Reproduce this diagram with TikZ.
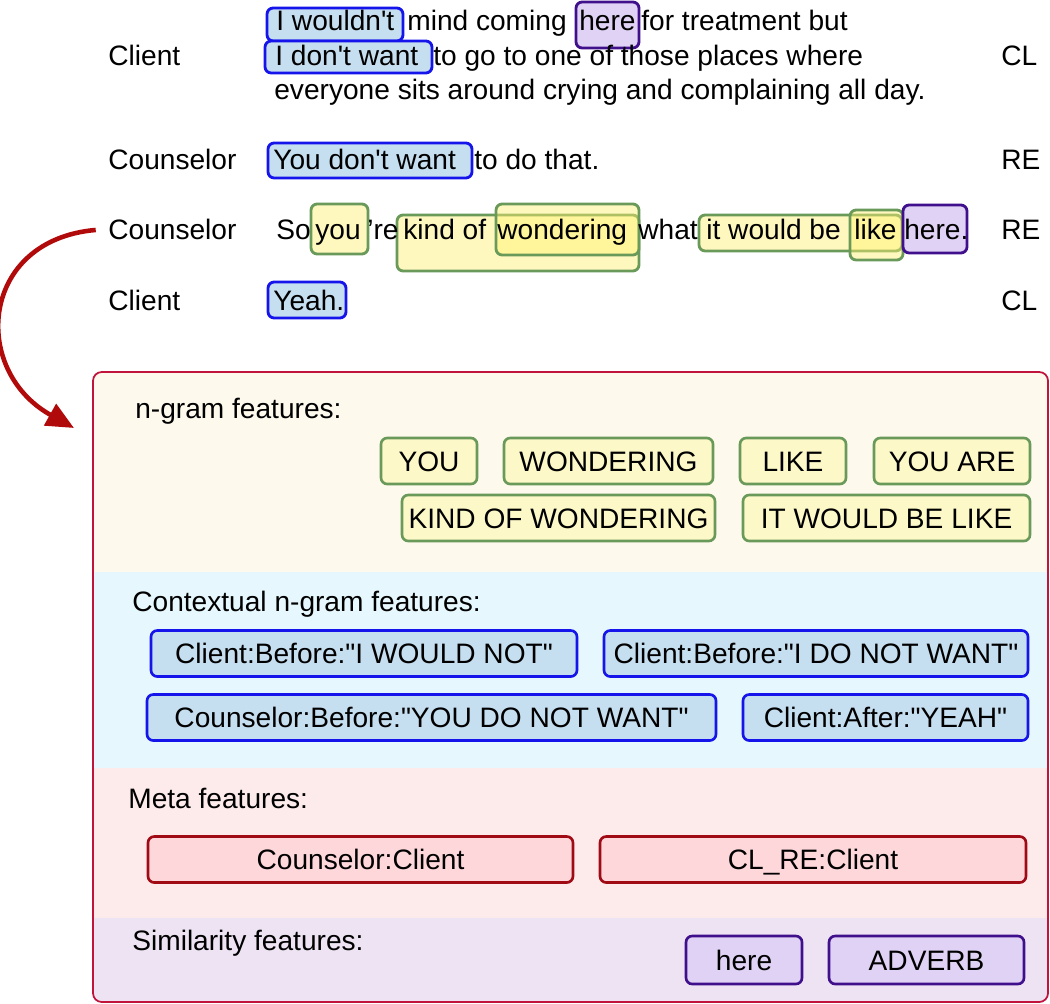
\documentclass[tikz,border=0pt]{standalone}
\usepackage{fontspec}
\setmainfont{Liberation Sans}[Ligatures=TeXOff]
\usepackage{xcolor}
\usetikzlibrary{arrows.meta}

\definecolor{ngborder}{RGB}{106,154,90}
\definecolor{ngfill}{RGB}{253,248,200}
\definecolor{hlyellow}{RGB}{255,240,110}
\definecolor{ctxborder}{RGB}{20,20,235}
\definecolor{ctxfill}{RGB}{197,222,240}
\definecolor{metaborder}{RGB}{160,10,20}
\definecolor{metafill}{RGB}{253,215,218}
\definecolor{simborder}{RGB}{64,16,140}
\definecolor{simfill}{RGB}{224,210,245}
\definecolor{panelborder}{RGB}{192,20,60}
\definecolor{ngbg}{RGB}{253,249,236}
\definecolor{ctxbg}{RGB}{230,248,253}
\definecolor{metabg}{RGB}{253,235,235}
\definecolor{simbg}{RGB}{237,227,243}
\definecolor{flowred}{RGB}{176,10,10}

\newcommand{\fsz}{\fontsize{16}{19}\selectfont}

\begin{document}
\begin{tikzpicture}[
  x=0.02cm, y=-0.02cm,
  lab/.style={anchor=base west, inner sep=0pt, font=\fsz},
  feat/.style={rectangle, rounded corners=3.5pt, line width=1.5pt, minimum height=0.92cm, text height=11.5pt, text depth=0pt, inner sep=0pt, font=\fsz},
  gbox/.style={feat, draw=ngborder, fill=ngfill},
  bbox/.style={feat, draw=ctxborder, fill=ctxfill},
  rbox/.style={feat, draw=metaborder, fill=metafill},
  pbox/.style={feat, draw=simborder, fill=simfill},
  hl/.style={rounded corners=3.5pt, line width=1.6pt},
  hly/.style={hl, draw=ngborder, fill=hlyellow, fill opacity=0.45},
  flow/.style={-{Triangle[length=0.55cm,width=0.48cm]}, line width=2.6pt, flowred}
]
\useasboundingbox (0,0) rectangle (1050,1003);

% highlights in the transcript
\draw[hl, draw=ctxborder, fill=ctxfill] (267,8) rectangle (403,41);
\draw[hl, draw=ctxborder, fill=ctxfill] (265,41) rectangle (432,73);
\draw[hl, draw=simborder, fill=simfill] (576,2) rectangle (639,48);
\draw[hl, draw=ctxborder, fill=ctxfill] (268,143) rectangle (472,178);
\draw[hly] (311,204) rectangle (368,254);
\draw[hly] (397,215) rectangle (639,271);
\draw[hly] (496,204) rectangle (639,255);
\draw[hly] (699,215) rectangle (902,251);
\draw[hly] (850,210) rectangle (903,260);
\draw[hl, draw=simborder, fill=simfill] (903,205) rectangle (967,253);
\draw[hl, draw=ctxborder, fill=ctxfill] (268,282) rectangle (346,318);

% speakers and codes
\node[lab] (cli1) at (108,66) {Client};
\node[lab] (cou1) at (108,170) {Counselor};
\node[lab] (cou2) at (108,240) {Counselor};
\node[lab] (cli2) at (108,310) {Client};
\node[lab] (code1) at (1001,66) {CL};
\node[lab] (code2) at (1001,170) {RE};
\node[lab] (code3) at (1001,240) {RE};
\node[lab] (code4) at (1001,310) {CL};

% utterances
\node[lab] (u1a) at (276,31) {I wouldn't};
\node[lab] (u1b) at (407,31) {mind coming};
\node[lab] (u1c) at (579,31) {here};
\node[lab] (u1d) at (641,31) {for treatment but};
\node[lab] (u1e) at (275,66) {I don't want};
\node[lab] (u1f) at (433,66) {to go to one of those places where};
\node[lab] (u1g) at (274,100) {everyone sits around crying and complaining all day.};
\node[lab] (u2a) at (273,170) {You don't want};
\node[lab] (u2b) at (474,170) {to do that.};
\node[lab] (u3a) at (276,240) {So};
\node[lab] (u3b) at (315,240) {you};
\node[lab] (u3c) at (367,240) {’re};
\node[lab] (u3d) at (403,240) {kind of};
\node[lab] (u3e) at (497,240) {wondering};
\node[lab] (u3f) at (638,240) {what};
\node[lab] (u3g) at (706,240) {it would be};
\node[lab] (u3h) at (854,240) {like};
\node[lab] (u3i) at (904,240) {here.};
\node[lab] (u4a) at (273,310) {Yeah.};

% feature panel
\begin{scope}
\clip[rounded corners=5pt] (93,372) rectangle (1048,1002);
\fill[ngbg] (93,372) rectangle (1048,572);
\fill[ctxbg] (93,572) rectangle (1048,768);
\fill[metabg] (93,768) rectangle (1048,918);
\fill[simbg] (93,918) rectangle (1048,1002);
\end{scope}
\draw[panelborder, line width=1pt, rounded corners=5pt] (93,372) rectangle (1048,1002);

\node[lab] (ngt) at (135,418) {n-gram features:};
\node[lab] (ctxt) at (132,611) {Contextual n-gram features:};
\node[lab] (metat) at (128,808) {Meta features:};
\node[lab] (simt) at (132,950) {Similarity features:};

\node[gbox, minimum width=1.92cm] (ng1) at (429,461) {YOU};
\node[gbox, minimum width=4.18cm] (ng2) at (608.5,461) {WONDERING};
\node[gbox, minimum width=2.12cm] (ng3) at (793,461) {LIKE};
\node[gbox, minimum width=3.12cm] (ng4) at (952,461) {YOU ARE};
\node[gbox, minimum width=6.26cm] (ng5) at (558.5,518) {KIND OF WONDERING};
\node[gbox, minimum width=5.74cm] (ng6) at (886.5,518) {IT WOULD BE LIKE};

\node[bbox, minimum width=8.52cm] (ctx1) at (364,653.5) {Client:Before:"I WOULD NOT"};
\node[bbox, minimum width=8.48cm] (ctx2) at (816,653.5) {Client:Before:"I DO NOT WANT"};
\node[bbox, minimum width=11.38cm] (ctx3) at (431.5,717.5) {Counselor:Before:"YOU DO NOT WANT"};
\node[bbox, minimum width=5.7cm] (ctx4) at (885.5,717.5) {Client:After:"YEAH"};

\node[rbox, minimum width=8.5cm] (meta1) at (360.5,859.5) {Counselor:Client};
\node[rbox, minimum width=8.52cm] (meta2) at (813,859.5) {CL\_RE:Client};

\node[pbox, minimum width=2.32cm, minimum height=0.96cm] (sim1) at (744,960) {here};
\node[pbox, minimum width=3.9cm, minimum height=0.96cm] (sim2) at (926.5,960) {ADVERB};

% arrow from the utterance to its features
\coordinate (tip) at (74,428);
\draw[flow] ([xshift=-7pt]cou2.west) .. controls (-20,240) and (-30,370) .. (tip);
\end{tikzpicture}
\end{document}
